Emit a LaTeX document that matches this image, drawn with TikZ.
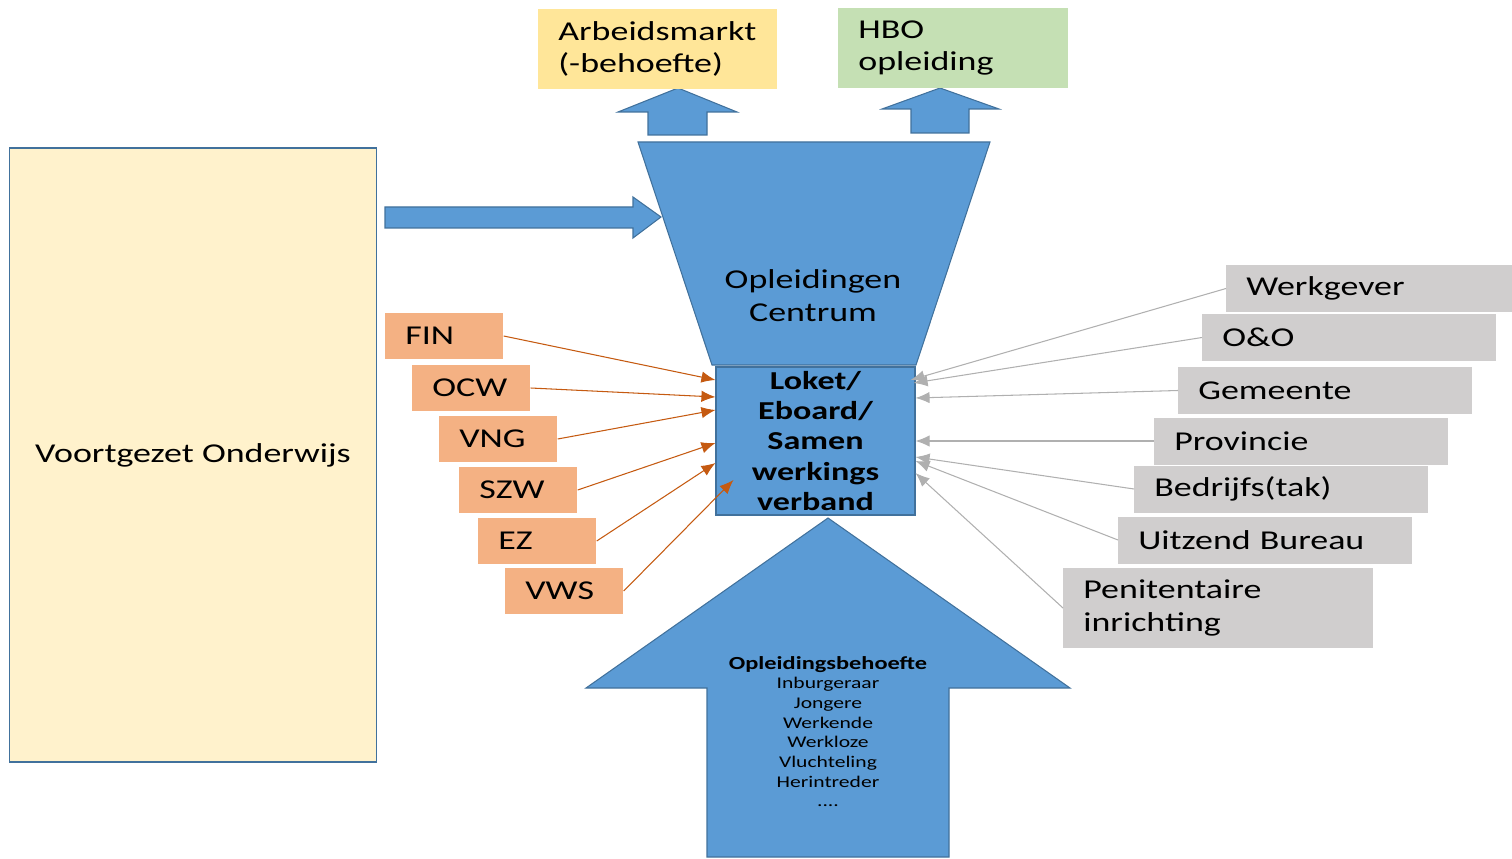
\documentclass[tikz,border=0pt]{standalone}
\usepackage{fontspec}
\setmainfont{Carlito}[FakeStretch=1.32]
\usepackage{tikz}
\usetikzlibrary{shapes, arrows.meta, positioning}

\definecolor{blauw}{HTML}{5B9BD5}
\definecolor{blauwrand}{HTML}{41719C}
\definecolor{oranje}{HTML}{F4B183}
\definecolor{oranjelijn}{HTML}{C55A11}
\definecolor{grijs}{HTML}{D0CECE}
\definecolor{grijslijn}{HTML}{B0B0B0}
\definecolor{geel}{HTML}{FFE699}
\definecolor{groen}{HTML}{C5E0B4}
\definecolor{creme}{HTML}{FFF2CC}

\tikzset{
 txt/.style={font=\fontsize{15.5}{18.7}\selectfont},
 blok/.style={fill=blauw, draw=blauwrand, line width=0.6pt},
 topbox/.style={txt, anchor=west, minimum height=1.6cm, inner xsep=0.4cm, align=left},
 minbox/.style={txt, fill=oranje, anchor=west, text width=1.56cm, minimum height=0.92cm, inner xsep=0.4cm, align=left},
 partbox/.style={txt, fill=grijs, anchor=west, text width=5.08cm, minimum height=0.94cm, inner xsep=0.4cm, align=left},
 oranjepijl/.style={draw=oranjelijn, line width=0.6pt, -{Latex[length=8pt, width=6.5pt]}},
 grijspijl/.style={draw=grijslijn, line width=0.6pt, -{Latex[length=8pt, width=6.5pt]}},
}

\begin{document}
\begin{tikzpicture}
 \useasboundingbox (0, 0) rectangle (30.24, 17.16);
 \node[txt, fill=creme, draw=blauwrand, line width=1pt, minimum width=7.34cm, minimum height=12.28cm] (VO) at (3.86, 8.06) {Voortgezet Onderwijs};
 \filldraw[blok] (7.7, 13.02) -- (12.66, 13.02) -- (12.66, 13.22) -- (13.22, 12.82) -- (12.66, 12.4) -- (12.66, 12.6) -- (7.7, 12.6) -- cycle;
 \filldraw[blok] (12.76, 14.32) -- (19.8, 14.32) -- (18.32, 9.86) -- (14.24, 9.86) -- cycle;
 \filldraw[blok] (12.96, 14.46) -- (12.96, 14.92) -- (12.36, 14.92) -- (13.56, 15.4) -- (14.74, 14.92) -- (14.14, 14.92) -- (14.14, 14.46) -- cycle;
 \filldraw[blok] (18.22, 14.5) -- (18.22, 14.98) -- (17.64, 14.98) -- (18.8, 15.4) -- (19.98, 14.98) -- (19.38, 14.98) -- (19.38, 14.5) -- cycle;
 \filldraw[blok] (14.14, 0.02) -- (14.14, 3.4) -- (11.72, 3.4) -- (16.56, 6.8) -- (21.4, 3.4) -- (18.98, 3.4) -- (18.98, 0.02) -- cycle;
 \node[txt, align=center] (OC) at (16.26, 11.24) {Opleidingen\\Centrum};
 \node[topbox, fill=geel, text width=3.98cm] (AM) at (10.76, 16.18) {Arbeidsmarkt\\(-behoefte)};
 \node[topbox, fill=groen, text width=3.8cm] (HBO) at (16.76, 16.2) {HBO\\opleiding};
 \node[blok, minimum width=3.98cm, minimum height=2.96cm, inner sep=0pt, align=center, font=\bfseries\fontsize{14.7}{17.3}\selectfont] (LOK) at (16.31, 8.34) {Loket/\\Eboard/\\Samen\\werkings\\verband};
 \node[align=center, font=\fontsize{9.3}{11.2}\selectfont] (OB) at (16.56, 2.53) {{\bfseries\fontsize{10.5}{11.2}\selectfont Opleidingsbehoefte}\\Inburgeraar\\Jongere\\Werkende\\Werkloze\\Vluchteling\\Herintreder\\....};
 \node[minbox] (FIN) at (7.7, 10.44) {FIN};
 \node[minbox] (OCW) at (8.24, 9.4) {OCW};
 \node[minbox] (VNG) at (8.78, 8.38) {VNG};
 \node[minbox] (SZW) at (9.18, 7.36) {SZW};
 \node[minbox] (EZ) at (9.56, 6.34) {EZ};
 \node[minbox] (VWS) at (10.1, 5.34) {VWS};
 \node[partbox, text width=4.92cm] (WG) at (24.52, 11.39) {Werkgever};
 \node[partbox] (OO) at (24.04, 10.41) {O\&O};
 \node[partbox] (GEM) at (23.56, 9.35) {Gemeente};
 \node[partbox] (PROV) at (23.08, 8.34) {Provincie};
 \node[partbox] (BED) at (22.68, 7.38) {Bedrijfs(tak)};
 \node[partbox] (UB) at (22.36, 6.36) {Uitzend Bureau};
 \node[partbox, text width=5.4cm, minimum height=1.6cm] (PI) at (21.26, 5.0) {Penitentaire\\inrichting};
 \draw[oranjepijl] (FIN.east) -- ([yshift=1.22cm]LOK.west);
 \draw[oranjepijl] (OCW.east) -- ([yshift=0.88cm]LOK.west);
 \draw[oranjepijl] (VNG.east) -- ([yshift=0.62cm]LOK.west);
 \draw[oranjepijl] (SZW.east) -- ([yshift=-0.04cm]LOK.west);
 \draw[oranjepijl] (EZ.east) -- ([yshift=-0.44cm]LOK.west);
 \draw[oranjepijl] (VWS.east) -- ([xshift=0.36cm, yshift=-0.78cm]LOK.west);
 \draw[grijspijl] (WG.west) -- ([xshift=-0.1cm, yshift=1.22cm]LOK.east);
 \draw[grijspijl] (OO.west) -- ([xshift=-0.04cm, yshift=1.16cm]LOK.east);
 \draw[grijspijl] (GEM.west) -- ([yshift=0.86cm]LOK.east);
 \draw[grijspijl] (PROV.west) -- (LOK.east);
 \draw[grijspijl] (BED.west) -- ([yshift=-0.32cm]LOK.east);
 \draw[grijspijl] (UB.west) -- ([yshift=-0.4cm]LOK.east);
 \draw[grijspijl] (PI.west) -- ([yshift=-0.64cm]LOK.east);
\end{tikzpicture}
\end{document}
